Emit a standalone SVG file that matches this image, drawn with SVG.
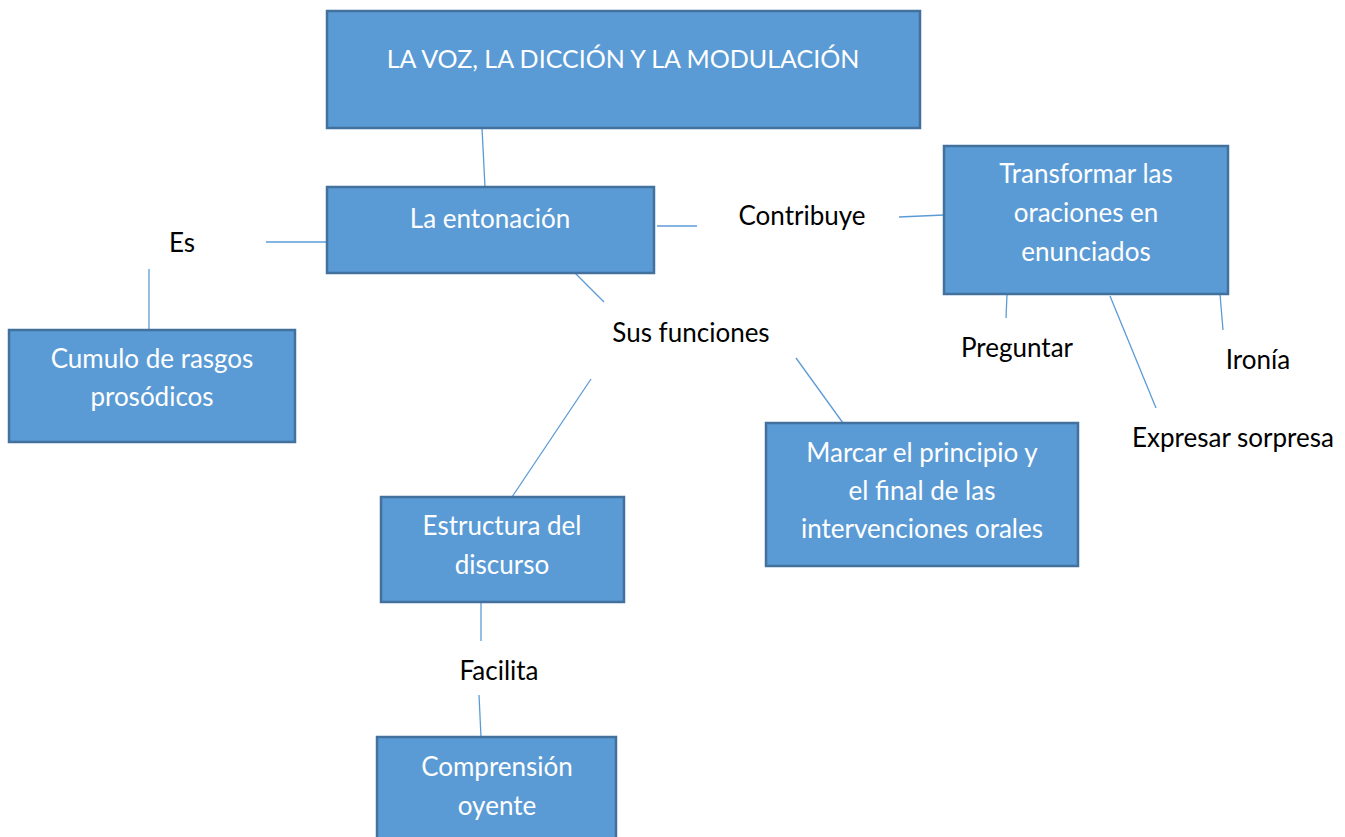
<svg xmlns="http://www.w3.org/2000/svg" width="1345" height="837" viewBox="0 0 1345 837">
<style>
.box{fill:#5B9BD5;stroke:#41719C;stroke-width:2.5}
.wt{fill:#fff;font-family:Lato,"Open Sans",sans-serif;font-size:26px;text-anchor:middle}
.bt{fill:#000;font-family:Lato,"Open Sans",sans-serif;font-size:26px;text-anchor:middle}
.ln{stroke:#5B9BD5;stroke-width:1.3;fill:none}
</style>
<rect width="1345" height="837" fill="#fff"/>
<g id="connectors">
<line class="ln" x1="482" y1="128" x2="485" y2="187"/>
<line class="ln" x1="266" y1="242" x2="327" y2="242"/>
<line class="ln" x1="149" y1="269" x2="149" y2="330"/>
<line class="ln" x1="657" y1="226" x2="697" y2="226"/>
<line class="ln" x1="899" y1="217" x2="944" y2="215"/>
<line class="ln" x1="575" y1="273" x2="604" y2="302"/>
<line class="ln" x1="591" y1="379" x2="512" y2="497"/>
<line class="ln" x1="796" y1="358" x2="843" y2="423"/>
<line class="ln" x1="1007" y1="294" x2="1006" y2="318"/>
<line class="ln" x1="1110" y1="296" x2="1156" y2="408"/>
<line class="ln" x1="1220" y1="294" x2="1223" y2="330"/>
<line class="ln" x1="481" y1="602" x2="481" y2="641"/>
<line class="ln" x1="479" y1="695" x2="481" y2="737"/>
</g>
<g id="title"><rect class="box" x="327" y="11" width="593" height="117"/><text class="wt" x="623" y="68" style="font-size:25px">LA VOZ, LA DICCIÓN Y LA MODULACIÓN</text></g>
<g id="entonacion"><rect class="box" x="327" y="187" width="327" height="86"/><text class="wt" x="490" y="228">La entonación</text></g>
<g id="cumulo"><rect class="box" x="9" y="330" width="286" height="112"/><text class="wt" x="152" y="368">Cumulo de rasgos</text><text class="wt" x="152" y="406">prosódicos</text></g>
<g id="transformar"><rect class="box" x="944" y="146" width="284" height="148"/><text class="wt" x="1086" y="183">Transformar las</text><text class="wt" x="1086" y="222">oraciones en</text><text class="wt" x="1086" y="261">enunciados</text></g>
<g id="marcar"><rect class="box" x="766" y="423" width="312" height="143"/><text class="wt" x="922" y="462">Marcar el principio y</text><text class="wt" x="922" y="500">el final de las</text><text class="wt" x="922" y="538">intervenciones orales</text></g>
<g id="estructura"><rect class="box" x="381" y="497" width="243" height="105"/><text class="wt" x="502" y="535">Estructura del</text><text class="wt" x="502" y="574">discurso</text></g>
<g id="comprension"><rect class="box" x="377" y="737" width="239" height="102"/><text class="wt" x="497" y="776">Comprensión</text><text class="wt" x="497" y="815">oyente</text></g>
<g id="labels">
<text class="bt" x="182" y="252">Es</text>
<text class="bt" x="802" y="225">Contribuye</text>
<text class="bt" x="691" y="342">Sus funciones</text>
<text class="bt" x="1017" y="357">Preguntar</text>
<text class="bt" x="1258" y="369">Ironía</text>
<text class="bt" x="1233" y="447">Expresar sorpresa</text>
<text class="bt" x="499" y="680">Facilita</text>
</g>
</svg>
